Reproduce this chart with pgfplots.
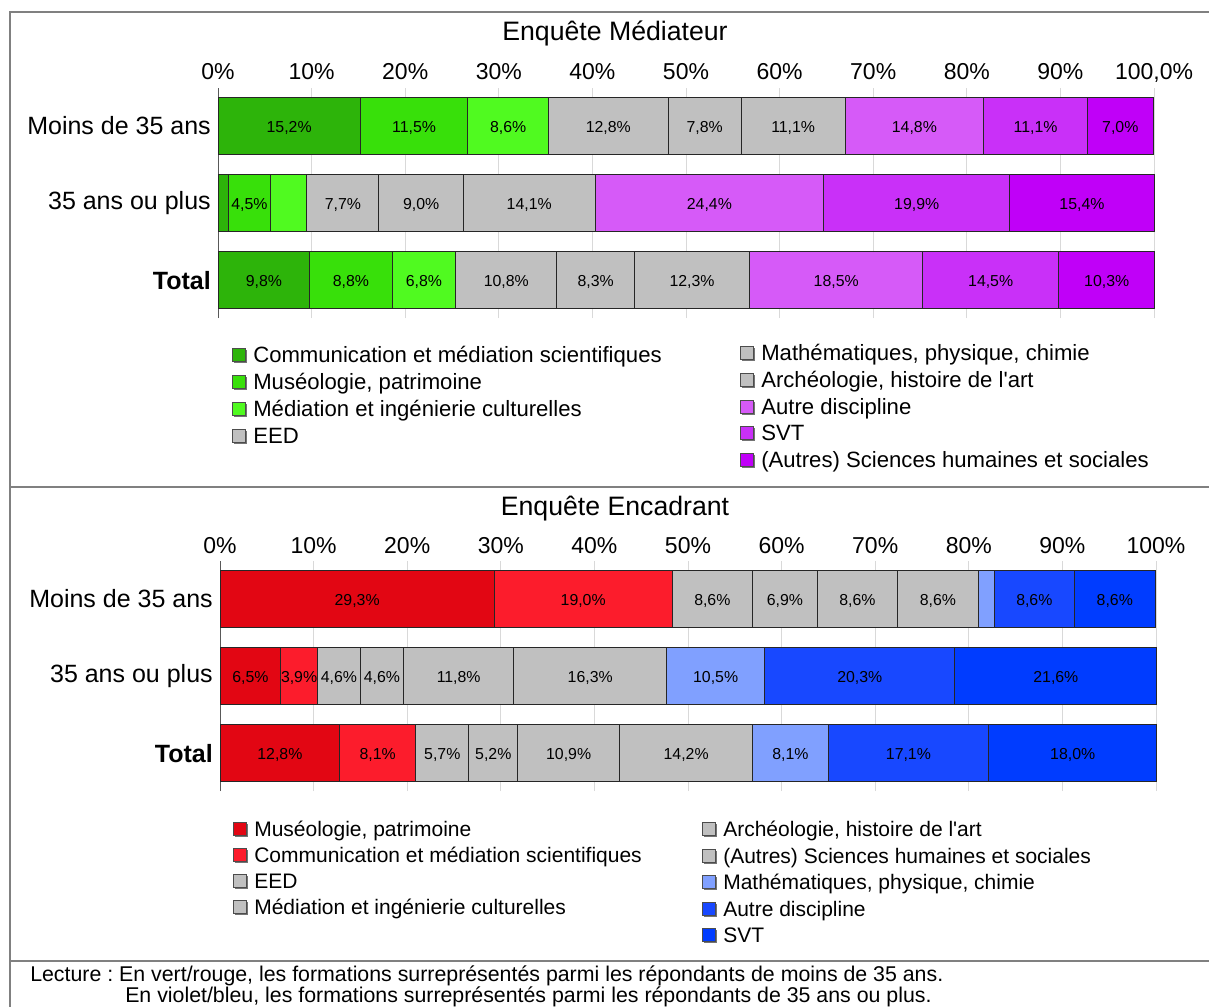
\documentclass[border=0pt]{standalone}
\usepackage{pgfplots}
\pgfplotsset{compat=1.18}
\usepackage{fontspec}
\setmainfont{Liberation Sans}
\frenchspacing
\definecolor{gA}{RGB}{45,180,10}
\definecolor{gB}{RGB}{56,224,10}
\definecolor{gC}{RGB}{80,250,32}
\definecolor{grB}{RGB}{192,192,192}
\definecolor{vA}{RGB}{214,90,248}
\definecolor{vB}{RGB}{201,48,248}
\definecolor{vC}{RGB}{192,0,248}
\definecolor{rA}{RGB}{226,6,19}
\definecolor{rB}{RGB}{252,28,44}
\definecolor{bA}{RGB}{128,160,255}
\definecolor{bB}{RGB}{24,72,255}
\definecolor{bC}{RGB}{0,60,255}
\definecolor{framec}{RGB}{128,128,128}

\newcommand\legitem[4]{%
  \fill[black!55] (#1+1.5,#2-5.5) rectangle ++(13,13);
  \filldraw[fill=#3, draw=black!70, line width=0.6pt] (#1,#2-7) rectangle ++(13,13);
  \node[anchor=base west, inner sep=0pt] at (#1+21,#2+7.5) {#4};}

\pgfplotsset{
  stackstyle/.style={
    xbar stacked, scale only axis, width=702pt, height=172.5pt,
    xmin=0, xmax=100, ymin=-0.49, ymax=2.49,
    bar width=42.75pt,
    axis x line*=top, axis y line*=left,
    x axis line style={draw=none},
    y axis line style={draw=black!65, line width=0.75pt},
    xtick={0,10,...,100},
    major tick length=0pt,
    xmajorgrids, grid style={draw=black!15, line width=0.75pt},
    ytick={0,1,2},
    yticklabels={\textbf{Total},35 ans ou plus,Moins de 35 ans},
    yticklabel style={font=\fontsize{18.75}{20}\selectfont, anchor=east, inner sep=0pt, xshift=-5.25pt},
    xticklabel style={font=\fontsize{17.25}{19}\selectfont, anchor=base, inner sep=0pt, yshift=6pt},
    nodes near coords,
    point meta=explicit symbolic,
    every node near coord/.append style={anchor=center, inner sep=0pt, yshift=-1.5pt, font=\fontsize{11.9}{13}\selectfont, text=black},
    every axis plot/.append style={draw=black!85, line width=0.75pt},
    clip=false,
  }
}

\begin{document}
\begin{tikzpicture}
\path[use as bounding box] (0,0) rectangle (906.75pt,-754.5pt);
\begin{scope}[x=0.75pt,y=-0.75pt]
  \draw[framec, line width=1.5pt] (10,1030) -- (10,12) -- (1230,12);
  \draw[framec, line width=1.5pt] (10,487) -- (1230,487);
  \draw[framec, line width=1.5pt] (10,961) -- (1230,961);
  \node[anchor=base, inner sep=0pt, font=\fontsize{20}{24}\selectfont] at (615,41) {Enquête Médiateur};
  \node[anchor=base, inner sep=0pt, font=\fontsize{20}{24}\selectfont] at (615,515) {Enquête Encadrant};
  \begin{scope}[every node/.append style={font=\fontsize{16.6}{20}\selectfont}]
    \legitem{232}{355}{gA}{Communication et médiation scientifiques}
    \legitem{232}{382}{gB}{Muséologie, patrimoine}
    \legitem{232}{409}{gC}{Médiation et ingénierie culturelles}
    \legitem{232}{436}{grB}{EED}
    \legitem{740}{353}{grB}{Mathématiques, physique, chimie}
    \legitem{740}{380}{grB}{Archéologie, histoire de l\textquotesingle art}
    \legitem{740}{407}{vA}{Autre discipline}
    \legitem{740}{433}{vB}{SVT}
    \legitem{740}{460}{vC}{(Autres) Sciences humaines et sociales}
  \end{scope}
  \begin{scope}[every node/.append style={font=\fontsize{15.75}{19}\selectfont}]
    \legitem{233}{829}{rA}{Muséologie, patrimoine}
    \legitem{233}{855}{rB}{Communication et médiation scientifiques}
    \legitem{233}{881}{grB}{EED}
    \legitem{233}{907}{grB}{Médiation et ingénierie culturelles}
    \legitem{702}{829}{grB}{Archéologie, histoire de l\textquotesingle art}
    \legitem{702}{856}{grB}{(Autres) Sciences humaines et sociales}
    \legitem{702}{882}{bA}{Mathématiques, physique, chimie}
    \legitem{702}{909}{bB}{Autre discipline}
    \legitem{702}{935}{bC}{SVT}
  \end{scope}
  \node[anchor=base west, inner sep=0pt, font=\fontsize{16}{19}\selectfont] at (30,981) {Lecture : En vert/rouge, les formations surreprésentés parmi les répondants de moins de 35 ans.};
  \node[anchor=base west, inner sep=0pt, font=\fontsize{16}{19}\selectfont] at (125,1002) {En violet/bleu, les formations surreprésentés parmi les répondants de 35 ans ou plus.};
\end{scope}

\begin{axis}[stackstyle, at={(163.5pt,-66pt)}, anchor=north west,
  xticklabels={0\%,10\%,20\%,30\%,40\%,50\%,60\%,70\%,80\%,90\%,{100,0\%}}]
\addplot[fill=gA] coordinates {(15.2,2) [15,2\%] (1.1,1) [{}] (9.8,0) [9,8\%]};
\addplot[fill=gB] coordinates {(11.5,2) [11,5\%] (4.5,1) [4,5\%] (8.8,0) [8,8\%]};
\addplot[fill=gC] coordinates {(8.6,2) [8,6\%] (3.9,1) [{}] (6.8,0) [6,8\%]};
\addplot[fill=grB] coordinates {(12.8,2) [12,8\%] (7.7,1) [7,7\%] (10.8,0) [10,8\%]};
\addplot[fill=grB] coordinates {(7.8,2) [7,8\%] (9.0,1) [9,0\%] (8.3,0) [8,3\%]};
\addplot[fill=grB] coordinates {(11.1,2) [11,1\%] (14.1,1) [14,1\%] (12.3,0) [12,3\%]};
\addplot[fill=vA] coordinates {(14.8,2) [14,8\%] (24.4,1) [24,4\%] (18.5,0) [18,5\%]};
\addplot[fill=vB] coordinates {(11.1,2) [11,1\%] (19.9,1) [19,9\%] (14.5,0) [14,5\%]};
\addplot[fill=vC] coordinates {(7.0,2) [7,0\%] (15.4,1) [15,4\%] (10.3,0) [10,3\%]};
\end{axis}

\begin{axis}[stackstyle, at={(165pt,-420.75pt)}, anchor=north west,
  xticklabels={0\%,10\%,20\%,30\%,40\%,50\%,60\%,70\%,80\%,90\%,100\%}]
\addplot[fill=rA] coordinates {(29.3,2) [29,3\%] (6.5,1) [6,5\%] (12.8,0) [12,8\%]};
\addplot[fill=rB] coordinates {(19.0,2) [19,0\%] (3.9,1) [3,9\%] (8.1,0) [8,1\%]};
\addplot[fill=grB] coordinates {(8.6,2) [8,6\%] (4.6,1) [4,6\%] (5.7,0) [5,7\%]};
\addplot[fill=grB] coordinates {(6.9,2) [6,9\%] (4.6,1) [4,6\%] (5.2,0) [5,2\%]};
\addplot[fill=grB] coordinates {(8.6,2) [8,6\%] (11.8,1) [11,8\%] (10.9,0) [10,9\%]};
\addplot[fill=grB] coordinates {(8.6,2) [8,6\%] (16.3,1) [16,3\%] (14.2,0) [14,2\%]};
\addplot[fill=bA] coordinates {(1.7,2) [{}] (10.5,1) [10,5\%] (8.1,0) [8,1\%]};
\addplot[fill=bB] coordinates {(8.6,2) [8,6\%] (20.3,1) [20,3\%] (17.1,0) [17,1\%]};
\addplot[fill=bC] coordinates {(8.6,2) [8,6\%] (21.6,1) [21,6\%] (18.0,0) [18,0\%]};
\end{axis}
\end{tikzpicture}
\end{document}
